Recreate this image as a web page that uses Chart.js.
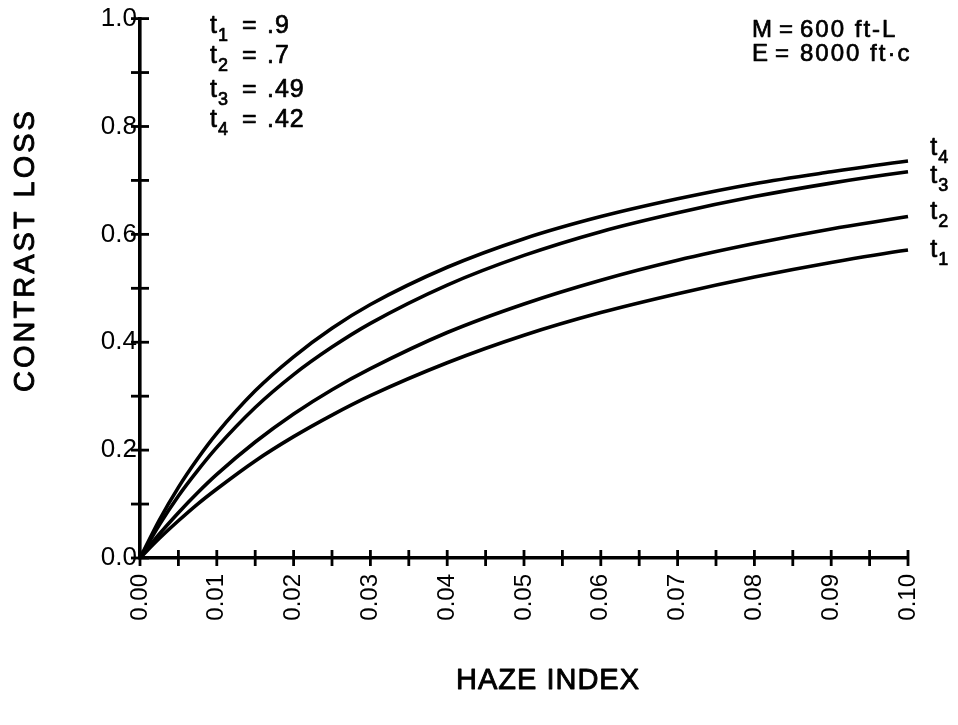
<!DOCTYPE html>
<html><head><meta charset="utf-8">
<script src="https://cdn.jsdelivr.net/npm/chart.js@4.4.1/dist/chart.umd.min.js"></script>
<style>html,body{margin:0;padding:0;background:#fff;}#wrap{width:958px;height:725px;}</style>
</head><body><div id="wrap"><canvas id="c" width="958" height="725"></canvas></div>
<script>
// ---- data ----
const hazeIndex = [0, 0.0025, 0.005, 0.0075, 0.01, 0.015, 0.02, 0.025, 0.03, 0.04, 0.05, 0.06, 0.07, 0.08, 0.09, 0.10, 0.1012];
const lossT1 = [0, 0.036, 0.069, 0.100, 0.128, 0.180, 0.225, 0.265, 0.301, 0.362, 0.413, 0.455, 0.490, 0.521, 0.548, 0.571, 0.573];
const lossT2 = [0, 0.044, 0.084, 0.121, 0.155, 0.215, 0.267, 0.312, 0.351, 0.418, 0.471, 0.515, 0.552, 0.583, 0.610, 0.633, 0.636];
const lossT3 = [0, 0.061, 0.115, 0.162, 0.205, 0.279, 0.340, 0.391, 0.435, 0.506, 0.561, 0.605, 0.640, 0.670, 0.695, 0.716, 0.718];
const lossT4 = [0, 0.070, 0.131, 0.184, 0.231, 0.310, 0.373, 0.426, 0.470, 0.539, 0.592, 0.633, 0.666, 0.694, 0.716, 0.736, 0.738];
const seriesSubs = ['1', '2', '3', '4'];
const transmittances = ['.9', '.7', '.49', '.42'];
const xTickLabels = ['0.00','0.01','0.02','0.03','0.04','0.05','0.06','0.07','0.08','0.09','0.10'];
const yTickLabels = ['0.0','0.2','0.4','0.6','0.8','1.0'];
const xTitle = 'HAZE INDEX';
const yTitle = 'CONTRAST LOSS';
const paramLines = [['M', '600 ft-L'], ['E', '8000 ft\u00B7c']];

const FONT = '"Liberation Sans", Arial, Helvetica, sans-serif';
const allSeries = [lossT1, lossT2, lossT3, lossT4];

function toPts(ys) { return hazeIndex.map((x, i) => ({ x: x, y: ys[i] })); }

function txt(ctx, s, x, y) {
  ctx.fillText(s, x, y);
  ctx.strokeText(s, x, y);
}

function drawSub(ctx, x, y, base, sub, size) {
  ctx.font = size + 'px ' + FONT;
  txt(ctx, base, x, y);
  const w = ctx.measureText(base).width;
  ctx.font = Math.round(size * 0.7) + 'px ' + FONT;
  txt(ctx, sub, x + w + 1, y + size * 0.32);
  return x + w + 1 + ctx.measureText(sub).width;
}

const decorPlugin = {
  id: 'decor',
  afterDraw(chart) {
    const ctx = chart.ctx;
    const xs = chart.scales.x, ys = chart.scales.y;
    const ca = chart.chartArea;
    ctx.save();
    ctx.strokeStyle = '#000';
    ctx.fillStyle = '#000';
    ctx.lineWidth = 2.8;
    // crossing tick marks
    ys.ticks.forEach(t => {
      const py = ys.getPixelForValue(t.value);
      ctx.beginPath(); ctx.moveTo(ca.left - 9, py); ctx.lineTo(ca.left + 9, py); ctx.stroke();
    });
    xs.ticks.forEach(t => {
      const px = xs.getPixelForValue(t.value);
      ctx.beginPath(); ctx.moveTo(px, ca.bottom - 8); ctx.lineTo(px, ca.bottom + 8); ctx.stroke();
    });
    ctx.lineWidth = 0.7;
    ctx.lineJoin = 'round';
    // curve end labels
    const yOff = [8, 4, 12, -5];
    ctx.textBaseline = 'alphabetic';
    ctx.textAlign = 'left';
    chart.data.datasets.forEach((ds, i) => {
      const meta = chart.getDatasetMeta(i);
      const pt = meta.data[meta.data.length - 1];
      drawSub(ctx, pt.x + 13, pt.y + yOff[i], 't', seriesSubs[i], 25);
    });
    // t list
    const baselines = [33, 63, 97, 127];
    transmittances.forEach((v, i) => {
      const b = baselines[i];
      drawSub(ctx, 210, b, 't', seriesSubs[i], 25);
      ctx.font = '25px ' + FONT;
      ctx.letterSpacing = '1px';
      txt(ctx, '=', 242, b);
      txt(ctx, v, 267, b);
      ctx.letterSpacing = '0px';
    });
    // M / E parameters
    const pb = [37, 61];
    const eqX = [779, 775];
    paramLines.forEach((p, i) => {
      ctx.font = '24px ' + FONT;
      ctx.letterSpacing = '0px';
      txt(ctx, p[0], 752, pb[i]);
      txt(ctx, '=', eqX[i], pb[i]);
      ctx.letterSpacing = '2px';
      txt(ctx, p[1], 800, pb[i]);
      ctx.letterSpacing = '0px';
    });
    // axis titles
    ctx.lineWidth = 0.9;
    ctx.letterSpacing = '1px';
    ctx.font = '29px ' + FONT;
    ctx.textAlign = 'center';
    ctx.textBaseline = 'middle';
    txt(ctx, xTitle, 548, 681);
    ctx.save();
    ctx.translate(26, 250);
    ctx.rotate(-Math.PI / 2);
    ctx.letterSpacing = '3px';
    txt(ctx, yTitle, 0, 0);
    ctx.restore();
    ctx.restore();
  }
};

new Chart(document.getElementById('c'), {
  type: 'line',
  data: {
    datasets: allSeries.map((s, i) => ({
      label: 't' + seriesSubs[i],
      data: toPts(s),
      borderColor: '#000',
      borderWidth: 3.6,
      pointRadius: 0,
      fill: false,
      cubicInterpolationMode: 'monotone',
      clip: false
    }))
  },
  options: {
    responsive: false,
    devicePixelRatio: 1,
    animation: false,
    layout: { padding: { top: 13, right: 50, left: 0, bottom: 0 } },
    plugins: { legend: { display: false }, tooltip: { enabled: false } },
    scales: {
      x: {
        type: 'linear', min: 0, max: 0.1,
        afterFit: s => { s.height = 167; },
        grid: { display: false, drawTicks: false },
        border: { display: true, color: '#000', width: 3.6 },
        ticks: {
          stepSize: 0.005, autoSkip: false, minRotation: 90, maxRotation: 90, padding: 16,
          color: '#000', font: { size: 24, family: FONT },
          callback: v => { const k = Math.round(v * 200); return k % 2 === 0 ? xTickLabels[k / 2] : ''; }
        }
      },
      y: {
        type: 'linear', min: 0, max: 1.0,
        afterFit: s => { s.width = 140; },
        grid: { display: false, drawTicks: false },
        border: { display: true, color: '#000', width: 3.6 },
        ticks: {
          stepSize: 0.1, autoSkip: false, padding: 3,
          color: '#000', font: { size: 26, family: FONT },
          callback: v => { const k = Math.round(v * 10); return k % 2 === 0 ? yTickLabels[k / 2] : ''; }
        }
      }
    }
  },
  plugins: [decorPlugin]
});
</script>
</body></html>
